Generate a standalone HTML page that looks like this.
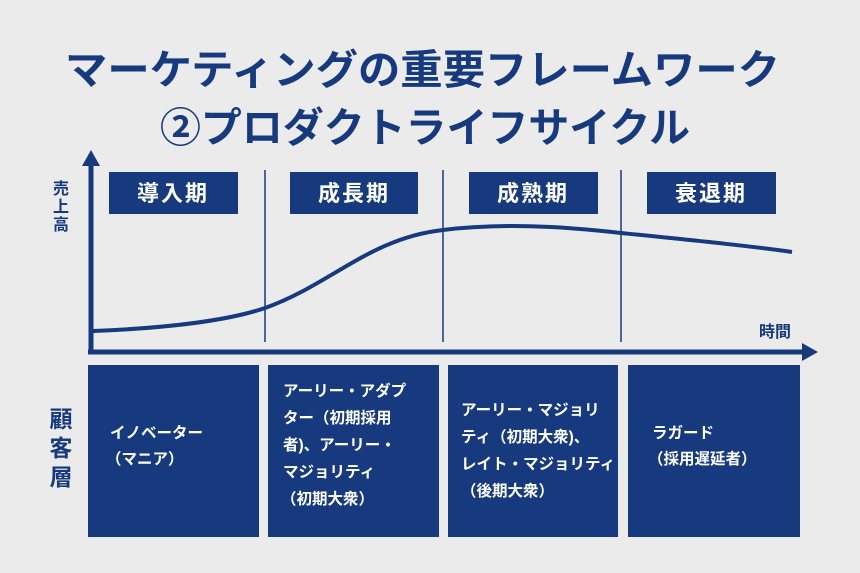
<!DOCTYPE html>
<html><head><meta charset="utf-8"><style>
body{margin:0;background:#ebebeb;}
svg{display:block}
text{font-family:"Liberation Sans","Noto Sans CJK JP",sans-serif;font-weight:bold}
</style></head><body>
<svg width="860" height="573" viewBox="0 0 860 573" xmlns="http://www.w3.org/2000/svg">
<rect width="860" height="573" fill="#ebebeb"/>
<g fill="#173a7e">
<text x="65" y="84" font-size="41" textLength="715" lengthAdjust="spacingAndGlyphs">マーケティングの重要フレームワーク</text>
<text x="160" y="142" font-size="41" textLength="530" lengthAdjust="spacingAndGlyphs">②プロダクトライフサイクル</text>
</g>
<!-- axes -->
<line x1="91" y1="162" x2="91" y2="354" stroke="#173a7e" stroke-width="5"/>
<polygon points="91,150 82,166 100,166" fill="#173a7e"/>
<line x1="88" y1="352" x2="804" y2="352" stroke="#173a7e" stroke-width="5"/>
<polygon points="818,352 802,343 802,361" fill="#173a7e"/>
<g stroke="#173a7e" stroke-width="1.5">
<line x1="265" y1="170" x2="265" y2="342"/>
<line x1="443" y1="170" x2="443" y2="342"/>
<line x1="621" y1="170" x2="621" y2="342"/>
</g>
<path d="M93,331 C170,328 230,320 265,308 C330,285 370,238 443,230 C500,223 560,226 621,233 C700,241 750,246 792,252" fill="none" stroke="#173a7e" stroke-width="4"/>
<g fill="#173a7e">
<rect x="109" y="172" width="129" height="42"/>
<rect x="290" y="172" width="128" height="42"/>
<rect x="469" y="172" width="129" height="42"/>
<rect x="647" y="172" width="129" height="42"/>
<rect x="88" y="365" width="171" height="172"/>
<rect x="268" y="365" width="171" height="172"/>
<rect x="448" y="365" width="170" height="172"/>
<rect x="628" y="365" width="172" height="172"/>
</g>
<g fill="#fff" font-size="22" text-anchor="middle">
<text x="173" y="201" letter-spacing="2">導入期</text>
<text x="354" y="201" letter-spacing="2">成長期</text>
<text x="533" y="201" letter-spacing="2">成熟期</text>
<text x="711" y="201" letter-spacing="2">衰退期</text>
</g>
<g fill="#173a7e" font-size="16" text-anchor="middle">
<text x="61" y="194">売</text><text x="61" y="212">上</text><text x="61" y="230">高</text>
<text x="775" y="337">時間</text>
</g>
<g fill="#173a7e" font-size="23" text-anchor="middle">
<text x="61" y="427">顧</text><text x="61" y="456">客</text><text x="61" y="485">層</text>
</g>
<g fill="#fff" font-size="15.5">
<text x="110" y="438">イノベーター</text>
<text x="106" y="464">（マニア）</text>
<text x="283" y="396">アーリー・アダプ</text>
<text x="283" y="423">ター（初期採用</text>
<text x="283" y="450">者)、アーリー・</text>
<text x="283" y="477">マジョリティ</text>
<text x="281" y="504">（初期大衆）</text>
<text x="461" y="415">アーリー・マジョリ</text>
<text x="461" y="442">ティ（初期大衆)、</text>
<text x="461" y="469">レイト・マジョリティ</text>
<text x="461" y="496">（後期大衆）</text>
<text x="652" y="438">ラガード</text>
<text x="648" y="464">（採用遅延者）</text>
</g>
</svg>
</body></html>
